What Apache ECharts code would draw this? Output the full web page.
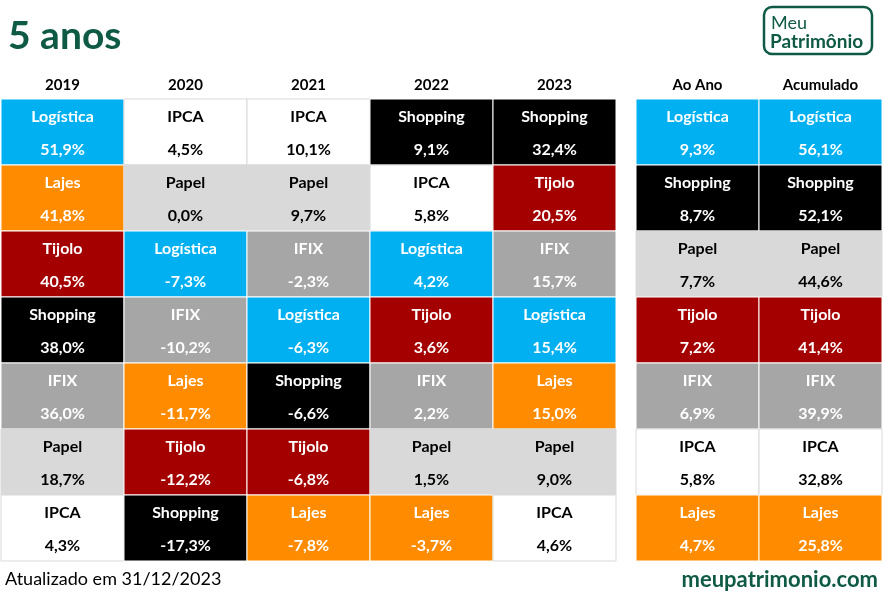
<!DOCTYPE html>
<html>
<head>
<meta charset="utf-8">
<script src="https://cdn.jsdelivr.net/npm/echarts@6/dist/echarts.min.js"></script>
<style>html,body{margin:0;padding:0;background:#fff}#c{width:883px;height:595px}</style>
</head>
<body>
<div id="c"></div>
<script>
// ---- data ----
const years = ['2019', '2020', '2021', '2022', '2023'];
const names2019 = ['Logística', 'Lajes', 'Tijolo', 'Shopping', 'IFIX', 'Papel', 'IPCA'];
const values2019 = [51.9, 41.8, 40.5, 38.0, 36.0, 18.7, 4.3];
const names2020 = ['IPCA', 'Papel', 'Logística', 'IFIX', 'Lajes', 'Tijolo', 'Shopping'];
const values2020 = [4.5, 0.0, -7.3, -10.2, -11.7, -12.2, -17.3];
const names2021 = ['IPCA', 'Papel', 'IFIX', 'Logística', 'Shopping', 'Tijolo', 'Lajes'];
const values2021 = [10.1, 9.7, -2.3, -6.3, -6.6, -6.8, -7.8];
const names2022 = ['Shopping', 'IPCA', 'Logística', 'Tijolo', 'IFIX', 'Papel', 'Lajes'];
const values2022 = [9.1, 5.8, 4.2, 3.6, 2.2, 1.5, -3.7];
const names2023 = ['Shopping', 'Tijolo', 'IFIX', 'Logística', 'Lajes', 'Papel', 'IPCA'];
const values2023 = [32.4, 20.5, 15.7, 15.4, 15.0, 9.0, 4.6];
const summaryHeaders = ['Ao Ano', 'Acumulado'];
const namesAoAno = ['Logística', 'Shopping', 'Papel', 'Tijolo', 'IFIX', 'IPCA', 'Lajes'];
const valuesAoAno = [9.3, 8.7, 7.7, 7.2, 6.9, 5.8, 4.7];
const namesAcum = ['Logística', 'Shopping', 'Papel', 'Tijolo', 'IFIX', 'IPCA', 'Lajes'];
const valuesAcum = [56.1, 52.1, 44.6, 41.4, 39.9, 32.8, 25.8];
const ranks = [0, 1, 2, 3, 4, 5, 6];

// ---- styles ----
const fillColor = {
  'Logística': '#00b0f0', 'Lajes': '#ff8c00', 'Tijolo': '#a50000',
  'Shopping': '#000000', 'IFIX': '#a6a6a6', 'Papel': '#d9d9d9', 'IPCA': '#ffffff'
};
const textColor = {
  'Logística': '#ffffff', 'Lajes': '#ffffff', 'Tijolo': '#ffffff',
  'Shopping': '#ffffff', 'IFIX': '#ffffff', 'Papel': '#000000', 'IPCA': '#000000'
};
const FONT = 'Lato, "Open Sans", sans-serif';

function buildCells(nameCols, valueCols) {
  const data = [], info = [];
  nameCols.forEach((names, ci) => {
    names.forEach((n, ri) => {
      data.push([ci, ri]);
      info.push({ name: n, val: valueCols[ci][ri] });
    });
  });
  return { data, info };
}
const left = buildCells([names2019, names2020, names2021, names2022, names2023],
                        [values2019, values2020, values2021, values2022, values2023]);
const right = buildCells([namesAoAno, namesAcum], [valuesAoAno, valuesAcum]);

function fmt(v) { return v.toFixed(1).replace('.', ',') + '%'; }

function makeRender(info) {
  return function (params, api) {
    const c = api.coord([api.value(0), api.value(1)]);
    const s = api.size([1, 1]);
    const x = c[0] - s[0] / 2, y = c[1] - s[1] / 2;
    const it = info[params.dataIndex];
    const stroke = it.name === 'IPCA' || it.name === 'Papel' ? '#d9d9d9' : '#ffffff';
    return {
      type: 'group',
      children: [
        { type: 'rect', shape: { x: x, y: y, width: s[0], height: s[1] },
          style: { fill: fillColor[it.name], stroke: stroke, lineWidth: 1 } },
        { type: 'text', x: c[0], y: y + 18,
          style: { text: it.name, fill: textColor[it.name], font: 'bold 16px ' + FONT,
                   textAlign: 'center', textVerticalAlign: 'middle' } },
        { type: 'text', x: c[0], y: y + 51,
          style: { text: fmt(it.val), fill: textColor[it.name], font: 'bold 16px ' + FONT,
                   textAlign: 'center', textVerticalAlign: 'middle' } }
      ]
    };
  };
}

const xLabel = { color: '#000', fontWeight: 'bold', fontSize: 15, fontFamily: FONT, margin: 6 };

const option = {
  animation: false,
  backgroundColor: '#ffffff',
  grid: [
    { left: 1, top: 99, width: 615, height: 462 },
    { left: 636, top: 99, width: 246, height: 462 }
  ],
  xAxis: [
    { type: 'category', gridIndex: 0, data: years, position: 'top',
      axisLine: { show: false }, axisTick: { show: false }, axisLabel: xLabel, splitLine: { show: false } },
    { type: 'category', gridIndex: 1, data: summaryHeaders, position: 'top',
      axisLine: { show: false }, axisTick: { show: false }, axisLabel: xLabel, splitLine: { show: false } }
  ],
  yAxis: [
    { type: 'category', gridIndex: 0, data: ranks, inverse: true, show: false },
    { type: 'category', gridIndex: 1, data: ranks, inverse: true, show: false }
  ],
  series: [
    { type: 'custom', xAxisIndex: 0, yAxisIndex: 0, data: left.data, renderItem: makeRender(left.info) },
    { type: 'custom', xAxisIndex: 1, yAxisIndex: 1, data: right.data, renderItem: makeRender(right.info) }
  ],
  graphic: [
    { type: 'text', left: 8, top: 17,
      style: { text: '5 anos', font: 'bold 39px ' + FONT, fill: '#0e5a45' } },
    { type: 'rect', shape: { x: 764, y: 7, width: 108, height: 47, r: 8 },
      style: { fill: '#fff', stroke: '#0e5a45', lineWidth: 2.5 } },
    { type: 'text', x: 771, y: 23,
      style: { text: 'Meu', font: '18px ' + FONT, fill: '#0e5a45', textVerticalAlign: 'middle' } },
    { type: 'text', x: 770, y: 42,
      style: { text: 'Patrimônio', font: 'bold 19px ' + FONT, fill: '#0e5a45', textVerticalAlign: 'middle' } },
    { type: 'text', x: 5, y: 579,
      style: { text: 'Atualizado em 31/12/2023', font: '18px ' + FONT, fill: '#000', textVerticalAlign: 'middle' } },
    { type: 'text', x: 878, y: 580,
      style: { text: 'meupatrimonio.com', font: 'bold 22px ' + FONT, fill: '#0e5a45',
               textAlign: 'right', textVerticalAlign: 'middle' } }
  ]
};

const chart = echarts.init(document.getElementById('c'), null, { renderer: 'canvas' });
chart.setOption(option);
</script>
</body>
</html>
